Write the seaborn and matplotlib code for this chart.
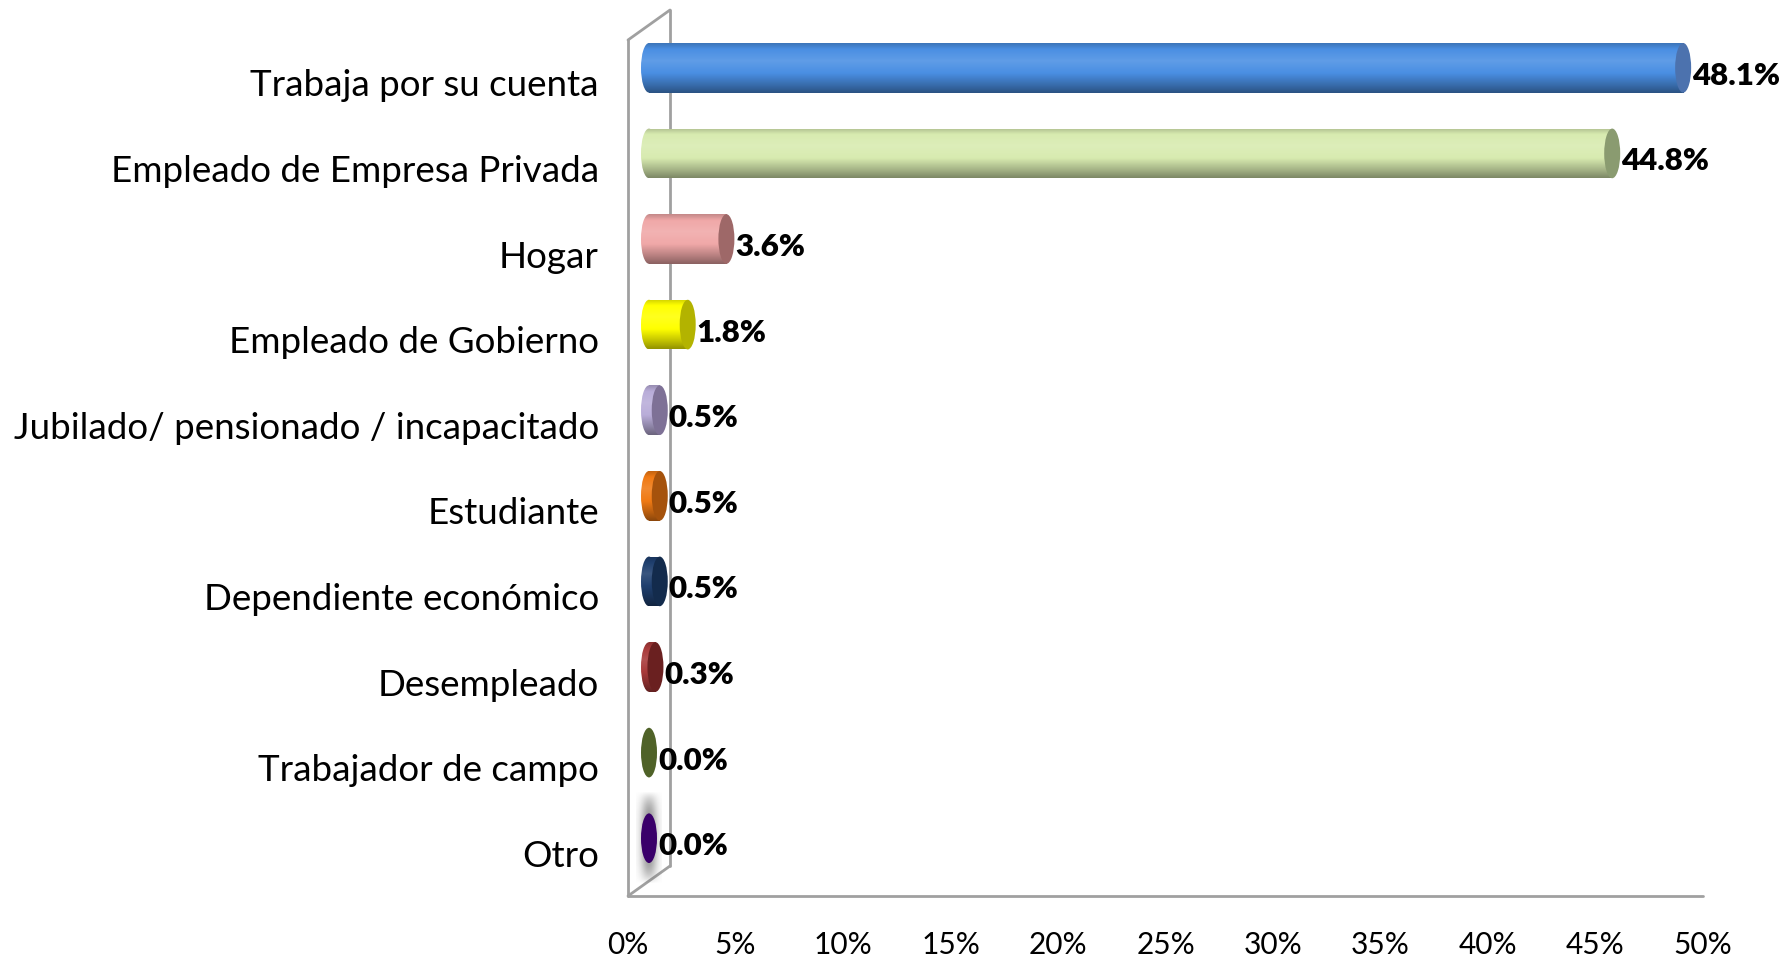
import numpy as np
import pandas as pd
import matplotlib
matplotlib.use("Agg")
import matplotlib.pyplot as plt
import seaborn as sns
from matplotlib.patches import Ellipse
from matplotlib.transforms import ScaledTranslation
from matplotlib.colors import to_rgb

# Occupation categories (top to bottom) and their shares in percent
categorias = [
    "Trabaja por su cuenta",
    "Empleado de Empresa Privada",
    "Hogar",
    "Empleado de Gobierno",
    "Jubilado/ pensionado / incapacitado",
    "Estudiante",
    "Dependiente económico",
    "Desempleado",
    "Trabajador de campo",
    "Otro",
]
valores = [48.1, 44.8, 3.6, 1.8, 0.5, 0.5, 0.5, 0.3, 0.0, 0.0]

# Body colour and end-cap colour of each cylinder
colores = ["#4A8FE3", "#D8EBB0", "#F0A8A8", "#FFFF00", "#B9ADD9",
           "#F07A14", "#1F3F6E", "#A83A3A", "#5B7030", "#44007A"]
colores_tapa = ["#4C72AE", "#8A9B70", "#9E6868", "#B3B300", "#7E7196",
                "#A5520C", "#132B4C", "#6A2020", "#4F6228", "#3A006A"]

ticks_x = [0, 5, 10, 15, 20, 25, 30, 35, 40, 45, 50]
etiquetas_x = [f"{t}%" for t in ticks_x]

sns.set_theme(style="white")
plt.rcParams["font.family"] = ["Lato", "DejaVu Sans"]

W, H = 1784, 963
fig = plt.figure(figsize=(W / 100, H / 100), dpi=100)
ax = fig.add_axes([628 / W, 67 / H, 1075 / W, 856 / H])

df = pd.DataFrame({"categoria": categorias, "valor": valores})
sns.barplot(data=df, x="valor", y="categoria", hue="categoria",
            palette=dict(zip(categorias, colores)), orient="h",
            width=0.58, saturation=1, legend=False, ax=ax, zorder=2)
ax.set_xlim(0, 50)
ax.set_ylim(len(categorias) - 0.5, -0.5)

# 3-D depth of the plot box, in pixels
DEPTH_X, DEPTH_Y = 42, 30
dpi = fig.dpi
ax_w_px = ax.get_position().width * W
ax_h_px = ax.get_position().height * H
px_per_unit = ax_w_px / 50.0
px_per_cat = ax_h_px / len(categorias)
mid = ScaledTranslation(DEPTH_X / 2 / dpi, DEPTH_Y / 2 / dpi, fig.dpi_scale_trans)
tr_bar = ax.transData + mid
ew = 16 / px_per_unit  # width of the cylinder end ellipses in data units


def gradiente(color, n=64):
    base = np.array(to_rgb(color))
    t = np.linspace(0, 1, n)
    # brightness profile from top (0) to bottom (1) of the cylinder
    f = np.interp(t, [0.0, 0.12, 0.35, 0.6, 0.85, 1.0],
                  [-0.18, 0.0, 0.12, 0.0, -0.25, -0.42])
    rows = []
    for k in f:
        if k >= 0:
            rows.append(base + (1 - base) * k)
        else:
            rows.append(base * (1 + k))
    return np.clip(np.array(rows), 0, 1).reshape(n, 1, 3)


for p in list(ax.patches):
    y0, h, w = p.get_y(), p.get_height(), p.get_width()
    i = int(round(y0 + h / 2))
    yc = y0 + h / 2
    p.set_transform(tr_bar)
    p.set_facecolor("none")
    p.set_edgecolor("none")
    grad = gradiente(colores[i])
    if w > 0:
        body = ax.imshow(grad, extent=(0, w, y0 + h, y0), transform=tr_bar,
                         aspect="auto", interpolation="bilinear", zorder=2)
        body.set_clip_path(p)
        left = Ellipse((0, yc), ew, h, transform=tr_bar, facecolor="none",
                       edgecolor="none", clip_on=False)
        ax.add_patch(left)
        cap_l = ax.imshow(grad, extent=(-ew / 2, ew / 2, y0 + h, y0),
                          transform=tr_bar, aspect="auto",
                          interpolation="bilinear", zorder=2)
        cap_l.set_clip_path(left)
    else:
        # soft grey shadow behind the empty last cylinder
        if i == len(categorias) - 1:
            sx = np.linspace(-1, 1, 40)
            sy = np.linspace(-1, 1, 80)
            gx, gy = np.meshgrid(sx, sy)
            alpha = np.exp(-(gx ** 2) * 2.5) * np.clip(1 - np.abs(gy) ** 3, 0, 1) * 0.75
            shade = np.zeros((80, 40, 4))
            shade[..., :3] = 0.42
            shade[..., 3] = alpha
            hx = 13 / px_per_unit
            hy = 46 / px_per_cat
            ax.imshow(shade, extent=(-hx, hx, yc + hy, yc - hy), transform=tr_bar,
                      aspect="auto", interpolation="bilinear", zorder=1.5,
                      clip_on=False)
    cap = Ellipse((w, yc), ew, h, transform=tr_bar,
                  facecolor=colores_tapa[i], edgecolor="none",
                  zorder=3, clip_on=False)
    ax.add_patch(cap)

# value labels at the end of each cylinder
lab_tr = ax.transData + ScaledTranslation(30 / dpi, 7 / dpi, fig.dpi_scale_trans)
for i, v in enumerate(valores):
    ax.text(v, i, f"{v:.1f}%", transform=lab_tr, ha="left", va="center",
            fontsize=22.5, fontweight="heavy", color="black", zorder=5)

# outline of the left wall and the front floor edge
dxa, dya = DEPTH_X / ax_w_px, DEPTH_Y / ax_h_px
kw = dict(color="#A0A0A0", lw=2, clip_on=False, zorder=1,
          transform=ax.transAxes, solid_capstyle="round")
ax.plot([0, 0], [0, 1], **kw)
ax.plot([dxa, dxa], [dya, 1 + dya], **kw)
ax.plot([0, dxa], [1, 1 + dya], **kw)
ax.plot([0, dxa], [0, dya], **kw)
ax.plot([0, 1], [0, 0], **kw)

ax.set_xlim(0, 50)
ax.set_ylim(len(categorias) - 0.5, -0.5)
ax.set_xticks(ticks_x)
ax.set_xticklabels(etiquetas_x, fontsize=21.5)
ax.tick_params(axis="x", length=0, pad=25, colors="black")
ax.tick_params(axis="y", length=0, pad=21, labelsize=26.5, colors="black")
ax.set_xlabel("")
ax.set_ylabel("")
for s in ax.spines.values():
    s.set_visible(False)
ax.grid(False)

fig.savefig("out.png", dpi=100, facecolor="white")
